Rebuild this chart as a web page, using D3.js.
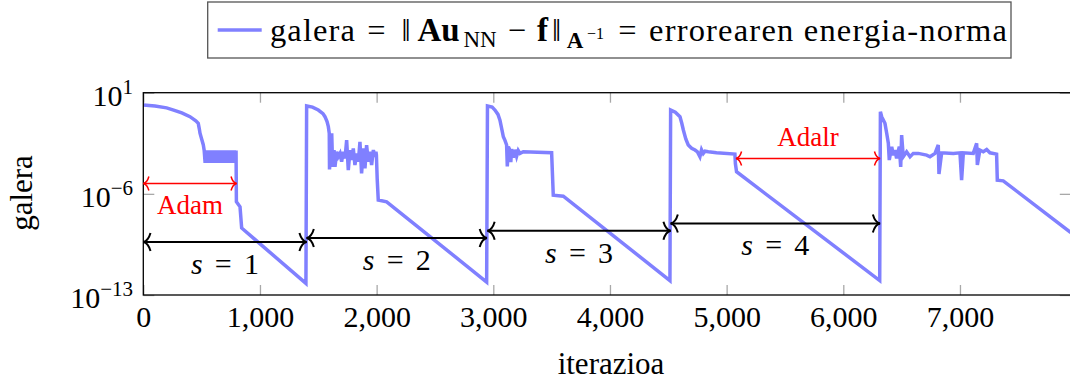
<!DOCTYPE html>
<html>
<head>
<meta charset="utf-8">
<script src="https://cdn.jsdelivr.net/npm/d3@7"></script>
<style>
  body { margin: 0; background: #fff; }
</style>
</head>
<body>
<script>
// training curve, one array per restart: [iteration, log10(error)]
var phase1 = [[0,0.15],[100,0.08],[200,-0.05],[260,-0.2],[330,-0.4],[400,-0.66],[450,-0.95],[471,-1.12],[480,-1.5],[486,-1.8],[500,-2.2],[514,-2.6],[522,-3.0],
  [530,-3.85],[540,-3.0],[550,-3.85],[560,-3.0],[570,-3.85],[580,-3.0],[590,-3.85],[600,-3.0],[610,-3.85],[620,-3.0],[630,-3.85],[640,-3.0],
  [650,-3.85],[660,-3.0],[670,-3.85],[680,-3.0],[690,-3.85],[700,-3.0],[710,-3.85],[720,-3.0],[730,-3.85],[740,-3.0],[750,-3.85],[760,-3.0],
  [770,-3.85],[780,-3.0],[790,-3.85],[795,-3.0],[798,-6.55],[829,-6.9],[843,-8.36],[1394,-12.2]]
var phase2 = [[1400,0.08],[1450,0.0],[1500,-0.2],[1540,-0.45],[1557,-0.66],[1575,-1.0],[1586,-1.35],
  [1594,-1.81],[1596,-4.31],[1615,-1.81],[1623,-4.13],[1635,-2.97],[1643,-4.13],[1658,-3.09],[1671,-3.43],[1686,-3.2],[1700,-3.78],
  [1714,-3.09],[1729,-3.55],[1743,-2.28],[1757,-4.36],[1772,-2.97],[1786,-3.66],[1800,-2.86],[1814,-4.01],[1829,-3.2],[1843,-3.78],
  [1857,-2.4],[1871,-4.59],[1886,-2.86],[1900,-4.24],[1914,-2.63],[1929,-3.78],[1943,-3.09],[1957,-4.01],[1972,-2.97],[1986,-3.43],
  [1994,-3.09],[1998,-3.3],[2005,-5.0],[2014,-6.43],[2086,-6.55],[2943,-12.1]]
var phase3 = [[2950,0.08],[2990,0.0],[3014,-0.2],[3040,-0.5],[3057,-0.9],[3075,-1.6],[3086,-2.05],[3100,-2.3],[3114,-2.62],[3120,-4.1],
  [3129,-2.74],[3143,-3.0],[3150,-3.8],[3157,-2.9],[3171,-3.5],[3186,-2.95],[3200,-3.4],[3214,-3.0],[3229,-3.2],[3257,-3.09],
  [3500,-3.16],[3514,-6.09],[3600,-6.16],[4514,-12.0]]
var phase4 = [[4520,-0.2],[4560,-0.35],[4600,-0.66],[4615,-1.1],[4629,-1.58],[4650,-2.2],[4671,-2.62],[4700,-2.85],[4729,-2.97],
  [4750,-3.1],[4771,-3.43],[4785,-2.95],[4800,-3.2],[4815,-3.05],[4843,-3.09],[4914,-3.15],[5071,-3.25],[5075,-3.9],[5085,-4.47],[6312,-12.0]]
var phase5 = [[6318,-0.32],[6329,-0.66],[6357,-1.12],[6372,-1.81],[6386,-2.5],[6394,-3.66],[6415,-2.74],[6429,-3.32],[6443,-2.97],
  [6457,-3.55],[6480,-2.74],[6492,-4.13],[6500,-1.93],[6514,-3.43],[6543,-3.09],[6572,-3.43],[6600,-3.2],[6643,-3.2],[6714,-3.32],
  [6743,-3.43],[6786,-3.2],[6814,-2.62],[6820,-4.63],[6843,-3.16],[6943,-3.2],[7000,-3.16],[7014,-5.05],[7029,-3.16],[7114,-3.2],
  [7143,-2.5],[7149,-4.0],[7171,-2.97],[7200,-3.09],[7229,-2.93],[7257,-3.16],[7314,-3.25],[7320,-5.05],[7371,-5.1],[7950,-8.68]]

// s = 1..4 spans (black) and optimiser spans (red), height as log10(error)
var stages = [[1, 0, 1400, -9.33], [2, 1400, 2945, -9.05], [3, 2950, 4520, -8.56], [4, 4520, 6315, -8.05]]
var optimisers = [["Adam", 0, 800, -5.28, 1], ["Adalr", 5080, 6315, -3.55, -1]]

var xTicks = [0, 1000, 2000, 3000, 4000, 5000, 6000, 7000]
var yTicks = [1, -6, -13]

var FONT = "'Liberation Serif', 'DejaVu Serif', serif"
var w = 1070
var h = 387
// (window.top is read only, so plot box names are prefixed)
var pLeft = 143.3, pTop = 92.7, pRight = 1070.8, pBottom = 295

var svg = d3.select("body").append("svg")
  .attr("width", w)
  .attr("height", h)
  .attr("font-family", FONT)
  .style("font-family", FONT)

function txt(parent) {
  return parent.append("text").style("font-family", FONT)
}

var x = d3.scaleLinear().domain([0, 7950]).range([pLeft, pRight])
var y = d3.scaleLog().domain([1e-13, 10]).range([pBottom, pTop])

// ticks, gray, pointing inward
function styleTicks(g) {
  g.select(".domain").remove()
  g.selectAll(".tick line").attr("stroke", "#a8a8a8").attr("stroke-width", 1.3)
}
svg.append("g").attr("transform", "translate(0," + pBottom + ")")
  .call(d3.axisBottom(x).tickValues(xTicks).tickSize(-10).tickPadding(32).tickFormat(d3.format(",")))
  .call(styleTicks)
  .call(function(g) {
    g.selectAll(".tick text").attr("dy", null).attr("fill", "#000")
      .style("font-size", "30px").style("font-family", FONT)
  })
svg.append("g").attr("transform", "translate(0," + pTop + ")")
  .call(d3.axisTop(x).tickValues(xTicks).tickSize(-10).tickFormat(""))
  .call(styleTicks)
svg.append("g").attr("transform", "translate(" + pLeft + ",0)")
  .call(d3.axisLeft(y).tickValues(yTicks.map(function(e) { return Math.pow(10, e) })).tickSize(-11).tickFormat(""))
  .call(styleTicks)
svg.append("g").attr("transform", "translate(" + pRight + ",0)")
  .call(d3.axisRight(y).tickValues(yTicks.map(function(e) { return Math.pow(10, e) })).tickSize(-11).tickFormat(""))
  .call(styleTicks)

// y tick labels 10^k
yTicks.forEach(function(e) {
  var t = txt(svg)
    .attr("x", 133)
    .attr("y", y(Math.pow(10, e)) + 13)
    .attr("text-anchor", "end")
    .style("font-size", "30px")
  t.append("tspan").text("10")
  t.append("tspan").attr("dy", -12).style("font-size", "21px").text(String(e).replace("-", "\u2212"))
})

// clip + curve
svg.append("clipPath").attr("id", "clip")
  .append("rect").attr("x", pLeft).attr("y", pTop).attr("width", pRight - pLeft).attr("height", pBottom - pTop)

var curve = phase1.concat(phase2, phase3, phase4, phase5)
var line = d3.line()
  .x(function(d) { return x(d[0]) })
  .y(function(d) { return y(Math.pow(10, d[1])) })

svg.append("path")
  .datum(curve)
  .attr("clip-path", "url(#clip)")
  .attr("d", line)
  .attr("fill", "none")
  .attr("stroke", "#8080ff")
  .attr("stroke-width", 3.5)

// frame
svg.append("rect")
  .attr("x", pLeft).attr("y", pTop)
  .attr("width", pRight - pLeft).attr("height", pBottom - pTop)
  .attr("fill", "none").attr("stroke", "#000").attr("stroke-width", 1.3)

// latex style double arrows
function head(px, py, dir, s) {
  return "M" + (px + dir * s * 0.8) + "," + (py - s) + " Q" + (px + dir * s * 0.55) + "," + (py - s * 0.12) + " " + px + "," + py +
         " Q" + (px + dir * s * 0.55) + "," + (py + s * 0.12) + " " + (px + dir * s * 0.8) + "," + (py + s)
}
function dblArrow(x0, x1, py, colour, sw, s) {
  var g = svg.append("g").attr("fill", "none").attr("stroke", colour).attr("stroke-width", sw)
  g.append("line").attr("x1", x0).attr("x2", x1).attr("y1", py).attr("y2", py)
  g.append("path").attr("d", head(x0, py, 1, s))
  g.append("path").attr("d", head(x1, py, -1, s))
}

stages.forEach(function(d) {
  var py = y(Math.pow(10, d[3]))
  dblArrow(x(d[1]), x(d[2]), py, "#000", 2, 9)
  var cx = x((d[1] + d[2]) / 2)
  var t = txt(svg)
    .attr("x", cx - 34)
    .attr("y", py + 32)
    .attr("textLength", 68)
    .attr("lengthAdjust", "spacing")
    .style("font-size", "30px")
  t.append("tspan").style("font-style", "italic").text("s")
  t.append("tspan").text(" = " + d[0])
})

optimisers.forEach(function(d) {
  var py = y(Math.pow(10, d[3]))
  dblArrow(x(d[1]), x(d[2]), py, "#ff0000", 1.5, 7)
  txt(svg)
    .attr("x", x((d[1] + d[2]) / 2))
    .attr("y", d[4] > 0 ? py + 31 : py - 12)
    .attr("text-anchor", "middle")
    .attr("fill", "#ff0000")
    .style("font-size", "27px")
    .text(d[0])
})

// axis titles
txt(svg)
  .attr("x", 611)
  .attr("y", 374)
  .attr("text-anchor", "middle")
  .style("font-size", "31px")
  .text("iterazioa")
txt(svg)
  .attr("transform", "translate(32,193) rotate(-90)")
  .attr("text-anchor", "middle")
  .style("font-size", "31px")
  .text("galera")

// legend, pieces placed like the TeX layout
var leg = svg.append("g")
leg.append("rect")
  .attr("x", 207.7).attr("y", 2).attr("width", 803.3).attr("height", 56)
  .attr("fill", "#fff").attr("stroke", "#555").attr("stroke-width", 1.3)
leg.append("line")
  .attr("x1", 217.7).attr("x2", 261.7).attr("y1", 30).attr("y2", 30)
  .attr("stroke", "#8080ff").attr("stroke-width", 3.5)

function piece(px, py, str, size, opts) {
  var t = txt(leg).attr("x", px).attr("y", py).style("font-size", size + "px").text(str)
  opts = opts || {}
  if (opts.bold) t.style("font-weight", "bold")
  if (opts.len) t.attr("textLength", opts.len).attr("lengthAdjust", "spacing")
  else t.attr("text-anchor", "middle")
  return t
}
piece(270, 41, "galera", 32.5, { len: 85 })
piece(376.5, 41, "=", 32.5)
piece(406, 41, "\u2016", 32.5)
piece(438.5, 41, "Au", 33, { bold: true })
piece(480, 47, "NN", 23)
piece(517, 41, "\u2212", 32.5)
piece(542.5, 41, "f", 33, { bold: true })
piece(556.5, 41, "\u2016", 32.5)
piece(575, 48, "A", 23, { bold: true })
piece(595.5, 39, "\u22121", 16)
piece(627.5, 41, "=", 32.5)
piece(649, 41, "errorearen energia-norma", 32.5, { len: 358 })
</script>
</body>
</html>
